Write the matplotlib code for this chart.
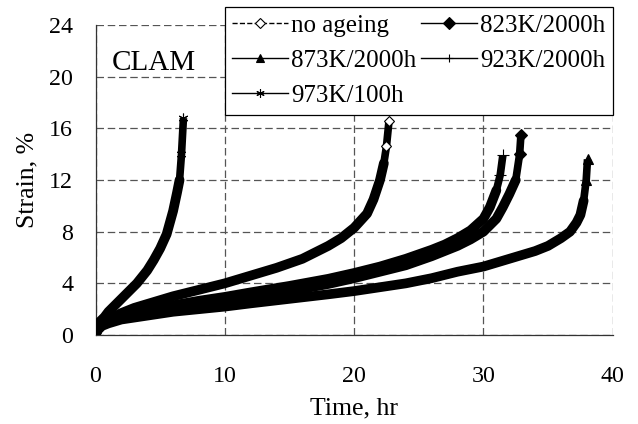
import matplotlib
matplotlib.use("Agg")
import matplotlib.pyplot as plt
from matplotlib.lines import Line2D

plt.rcParams['font.family'] = ['Liberation Serif', 'DejaVu Serif']

# creep curves (time in hr, strain in %)
t_no_ageing = [0, 0.2, 0.5, 1, 2, 3, 4, 6, 8, 10, 12, 14, 16, 18, 19, 20, 21, 21.5, 22, 22.3, 22.5, 22.7]
s_no_ageing = [0, 0.6, 0.9, 1.2, 1.7, 2.1, 2.4, 3.0, 3.5, 4.0, 4.6, 5.2, 5.9, 6.9, 7.5, 8.3, 9.4, 10.5, 12.0, 13.3, 14.6, 16.6]

t_823 = [0, 0.2, 0.5, 1, 2, 4, 6, 8, 10, 12, 15, 18, 20, 22, 24, 26, 27, 28, 29, 30, 31, 31.5, 32, 32.5, 32.8, 32.9]
s_823 = [0, 0.5, 0.8, 1.0, 1.35, 1.75, 2.1, 2.4, 2.65, 2.95, 3.4, 3.95, 4.4, 4.9, 5.4, 6.1, 6.5, 6.9, 7.4, 8.0, 9.0, 9.9, 10.9, 12.0, 14.0, 15.5]

t_873 = [0, 0.2, 0.5, 1, 2, 4, 6, 8, 10, 12, 15, 18, 20, 22, 24, 26, 28, 30, 32, 34, 35, 36, 36.7, 37.2, 37.5, 37.75, 37.95, 38.05]
s_873 = [0, 0.4, 0.7, 0.9, 1.2, 1.5, 1.8, 2.0, 2.2, 2.45, 2.8, 3.15, 3.4, 3.7, 4.0, 4.4, 4.9, 5.3, 5.9, 6.5, 6.9, 7.5, 8.0, 8.7, 9.3, 10.4, 12.0, 13.6]

t_923 = [0, 0.2, 0.5, 1, 2, 4, 6, 8, 10, 12, 15, 18, 20, 22, 24, 26, 27, 28, 29, 30, 30.5, 31, 31.3, 31.5]
s_923 = [0, 0.55, 0.85, 1.1, 1.45, 1.9, 2.3, 2.65, 2.95, 3.3, 3.8, 4.35, 4.8, 5.3, 5.9, 6.6, 7.0, 7.5, 8.1, 9.0, 9.9, 11.2, 12.4, 13.9]

t_973 = [0, 0.1, 0.3, 0.7, 1.0, 1.5, 2.0, 2.5, 3.2, 4.0, 4.5, 5.0, 5.5, 6.0, 6.3, 6.5, 6.65, 6.8]
s_973 = [0, 0.6, 1.0, 1.4, 1.8, 2.3, 2.8, 3.3, 4.0, 5.0, 5.8, 6.7, 7.8, 9.6, 11.0, 12.0, 14.0, 16.8]

series = [
    ("no ageing", t_no_ageing, s_no_ageing, dict(marker='D', mfc='white', ms=5)),
    ("823K/2000h", t_823, s_823, dict(marker='D', mfc='black', ms=6)),
    ("873K/2000h", t_873, s_873, dict(marker='^', mfc='black', ms=6.5)),
    ("923K/2000h", t_923, s_923, dict(marker='+', mfc='black', ms=8)),
    ("973K/100h", t_973, s_973, dict(marker=(6, 2, 0), mfc='black', ms=7)),
]

fig = plt.figure(figsize=(6.38, 4.24), dpi=100)
ax = fig.add_axes([0.1497, 0.2099, 0.8107, 0.7311])

handles = {}
for name, t, s, mk in series:
    # dense part of the record drawn as a thick band, the tail narrower
    ax.plot(t[:-2], s[:-2], color='black', lw=7, solid_capstyle='round', zorder=3)
    ax.plot(t[-3:], s[-3:], color='black', lw=5.5, solid_capstyle='butt', zorder=3)
    ax.plot(t[-2:], s[-2:], linestyle='none', mec='black', mew=0.8,
            zorder=4, **mk)
    ls = '--' if name == "no ageing" else '-'
    leg_mk = dict(mk, ms=min(mk['ms'], 6))
    handles[name] = Line2D([], [], color='black', lw=1, linestyle=ls,
                           mec='black', mew=0.8, **leg_mk)

ax.set_xlim(0, 40)
ax.set_ylim(0, 24)
ax.set_xticks([0, 10, 20, 30, 40])
ax.set_yticks([0, 4, 8, 12, 16, 20, 24])
ax.grid(True, color='#555555', linestyle=(0, (6, 3)), lw=0.9)
ax.set_axisbelow(True)
for side in ['top', 'right']:
    ax.spines[side].set_visible(False)
for side in ['left', 'bottom']:
    ax.spines[side].set_color('#333333')
    ax.spines[side].set_linewidth(0.9)
ax.tick_params(length=0, labelsize=17.3)
ax.tick_params(axis='y', pad=16)
ax.tick_params(axis='x', pad=22)
ax.set_xlabel("Time, hr", fontsize=18.5, labelpad=8)
ax.set_ylabel("Strain, %", fontsize=18.5, labelpad=8)

ax.text(0.032, 0.855, "CLAM", transform=ax.transAxes, fontsize=21, va='baseline')

order = ["no ageing", "873K/2000h", "973K/100h", "823K/2000h", "923K/2000h"]
leg = ax.legend([handles[n] for n in order], order, ncol=2, loc='upper right',
                bbox_to_anchor=(1.0, 1.058), borderaxespad=0, fontsize=18,
                frameon=True, fancybox=False, edgecolor='black', framealpha=1,
                handlelength=2.25, handletextpad=0.1, columnspacing=0.2,
                labelspacing=0.5, borderpad=0.3)
leg.get_frame().set_linewidth(0.9)
leg.set_zorder(5)

fig.savefig("out.png", dpi=100)
